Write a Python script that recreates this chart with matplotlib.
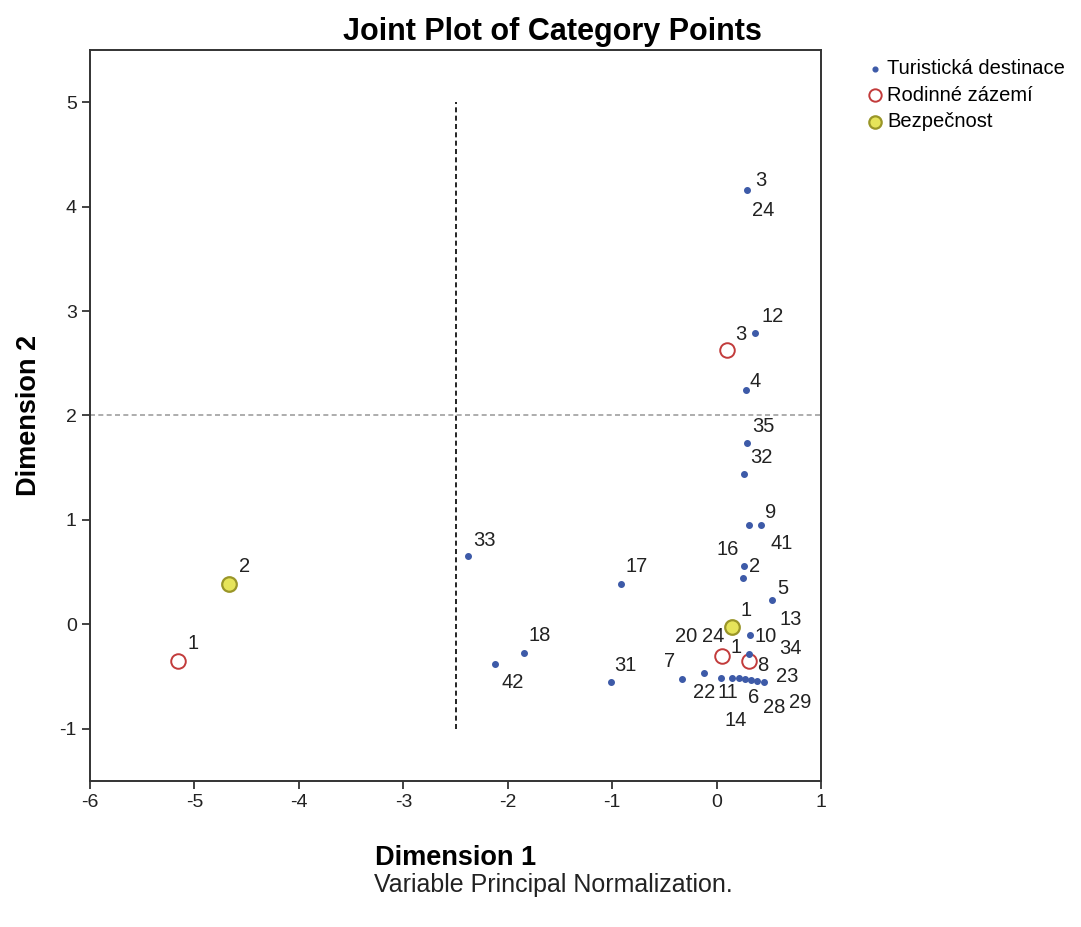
import matplotlib.pyplot as plt
import numpy as np

plt.rcParams['font.family'] = ['Liberation Sans', 'DejaVu Sans']
plt.rcParams['axes.unicode_minus'] = False

# category points
tour_x = [0.29, 0.37, 0.28, 0.29, 0.26, 0.31, 0.43, 0.26, 0.25, 0.53,
          -2.38, -0.92, -1.84, -2.12, -1.01, 0.32, 0.31, -0.33, -0.12, 0.04,
          0.15, 0.21, 0.27, 0.33, 0.39, 0.45]
tour_y = [4.16, 2.79, 2.24, 1.74, 1.44, 0.95, 0.95, 0.56, 0.44, 0.23,
          0.65, 0.39, -0.27, -0.38, -0.55, -0.10, -0.28, -0.52, -0.47, -0.51,
          -0.51, -0.51, -0.52, -0.53, -0.54, -0.55]

fam_x = [-5.16, 0.10, 0.05, 0.31]
fam_y = [-0.35, 2.63, -0.30, -0.35]

bez_x = [-4.67, 0.15]
bez_y = [0.39, -0.03]

# label texts with their positions
lab_text = ['1', '3', '1', '2', '1',
            '3', '24', '12', '4', '35', '32', '9', '41', '16', '2', '5', '13',
            '33', '17', '18', '42', '31', '20', '24', '10', '34', '8', '23',
            '7', '22', '11', '6', '28', '29', '14']
lab_x = [-5.01, 0.23, 0.19, -4.52, 0.28,
         0.42, 0.45, 0.54, 0.37, 0.45, 0.43, 0.52, 0.62, 0.11, 0.36, 0.63, 0.71,
         -2.22, -0.77, -1.69, -1.95, -0.87, -0.29, -0.03, 0.47, 0.71, 0.44, 0.68,
         -0.45, -0.12, 0.11, 0.35, 0.55, 0.80, 0.18]
lab_y = [-0.18, 2.78, -0.22, 0.55, 0.13,
         4.25, 3.96, 2.95, 2.33, 1.89, 1.60, 1.07, 0.77, 0.72, 0.55, 0.34, 0.05,
         0.80, 0.55, -0.11, -0.56, -0.39, -0.12, -0.12, -0.12, -0.23, -0.39, -0.50,
         -0.36, -0.65, -0.65, -0.70, -0.80, -0.75, -0.92]

fig = plt.figure(figsize=(10.81, 9.27), dpi=100)
ax = fig.add_axes([0.0833, 0.1575, 0.6762, 0.7886])

ax.plot([-2.5, -2.5], [-1, 5], ls=(0, (3, 2)), color='black', lw=1.2, zorder=1)
ax.axhline(2, ls=(0, (3, 2)), color='#a0a0a0', lw=1.2, zorder=1)

ax.scatter(tour_x, tour_y, s=16, color='#3d5aa8', edgecolors='#3d5aa8',
           zorder=3, label='Turistická destinace')
ax.scatter(fam_x, fam_y, s=110, facecolors='white', edgecolors='#c23b3b',
           linewidths=1.4, zorder=2, label='Rodinné zázemí')
ax.scatter(bez_x, bez_y, s=110, facecolors='#e6e45a', edgecolors='#9a9628',
           linewidths=1.6, zorder=2, label='Bezpečnost')

for t, x, y in zip(lab_text, lab_x, lab_y):
    ax.text(x, y, t, ha='center', va='center', fontsize=14.5, color='#222222', zorder=4)

ax.set_xlim(-6, 1)
ax.set_ylim(-1.5, 5.5)
ax.set_xticks(np.arange(-6, 2, 1))
ax.set_yticks(np.arange(-1, 6, 1))
ax.tick_params(direction='out', length=6, width=1.2, labelsize=14, colors='#222222')
for s in ax.spines.values():
    s.set_linewidth(1.4)
    s.set_color('#333333')

ax.set_xlabel('Dimension 1', fontsize=19.5, fontweight='bold', labelpad=24.5)
ax.set_ylabel('Dimension 2', fontsize=19.5, fontweight='bold', labelpad=12.5)
ax.set_title('Joint Plot of Category Points', fontsize=22, fontweight='bold', pad=7,
             x=0.633)

fig.legend(loc='upper left', bbox_to_anchor=(0.802, 0.936), frameon=False,
           fontsize=14.5, handlelength=0.8, handletextpad=0.2, labelspacing=0.36,
           markerscale=0.85, borderaxespad=0, borderpad=0)

fig.text(0.512, 0.045, 'Variable Principal Normalization.', ha='center', va='center',
         fontsize=18, color='#222222')

fig.savefig('out.png', dpi=100)
